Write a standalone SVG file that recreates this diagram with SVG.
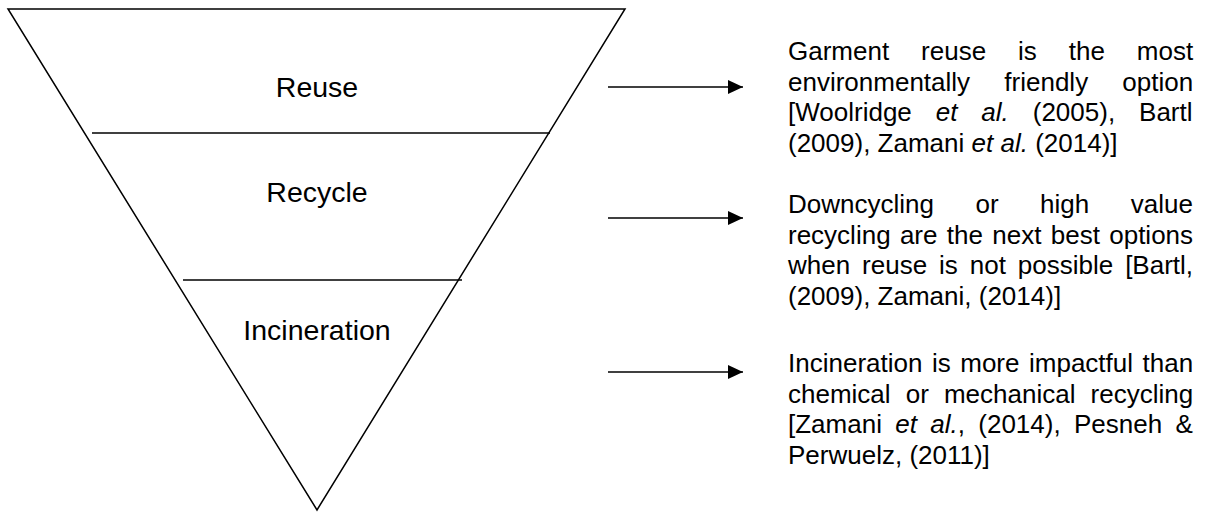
<svg xmlns="http://www.w3.org/2000/svg" width="1205" height="512" viewBox="0 0 1205 512">
  <style>
    .shape { fill: none; stroke: #000; stroke-width: 1.5; }
    .label { font-family: "Liberation Sans", Arial, sans-serif; font-size: 28.5px; fill: #000; text-anchor: middle; }
    .note { font-family: "Liberation Sans", Arial, sans-serif; font-size: 26px; fill: #000; }
    .it { font-style: italic; }
    .arrow { stroke: #000; stroke-width: 1.6; fill: none; marker-end: url(#head); }
  </style>
  <defs>
    <marker id="head" markerWidth="16" markerHeight="16" refX="15" refY="7" orient="auto" markerUnits="userSpaceOnUse">
      <path d="M0,0 L15,7 L0,14 Z" fill="#000"/>
    </marker>
  </defs>
  <rect x="0" y="0" width="1205" height="512" fill="#fff"/>

  <g id="pyramid">
    <polygon class="shape" points="8,9 625,9 317,510" stroke-linejoin="miter"/>
    <line class="shape" x1="92" y1="133" x2="550" y2="133"/>
    <line class="shape" x1="183" y1="280" x2="462" y2="280"/>
  </g>

  <g id="tier-reuse">
    <text class="label" x="317" y="97">Reuse</text>
  </g>
  <g id="tier-recycle">
    <text class="label" x="317" y="202">Recycle</text>
  </g>
  <g id="tier-incineration">
    <text class="label" x="317" y="340">Incineration</text>
  </g>

  <g id="connectors">
    <line class="arrow" x1="608" y1="87" x2="743" y2="87"/>
    <line class="arrow" x1="608" y1="218" x2="743" y2="218"/>
    <line class="arrow" x1="608" y1="372" x2="743" y2="372"/>
  </g>

  <g id="note-reuse">
    <text class="note" x="788" y="60" word-spacing="24.7">Garment reuse is the most</text>
    <text class="note" x="788" y="90.5" word-spacing="27">environmentally friendly option</text>
    <text class="note" x="788" y="121" word-spacing="16.7">[Woolridge <tspan class="it">et al.</tspan> (2005), Bartl</text>
    <text class="note" x="788" y="151.5">(2009), Zamani <tspan class="it">et al.</tspan> (2014)]</text>
  </g>

  <g id="note-recycle">
    <text class="note" x="788" y="213" word-spacing="34.3">Downcycling or high value</text>
    <text class="note" x="788" y="243.5" word-spacing="2.1">recycling are the next best options</text>
    <text class="note" x="788" y="274" word-spacing="4.7">when reuse is not possible [Bartl,</text>
    <text class="note" x="788" y="304.5">(2009), Zamani, (2014)]</text>
  </g>

  <g id="note-incineration">
    <text class="note" x="788" y="372" word-spacing="2.3">Incineration is more impactful than</text>
    <text class="note" x="788" y="402.5" word-spacing="7.9">chemical or mechanical recycling</text>
    <text class="note" x="788" y="433" word-spacing="6.1">[Zamani <tspan class="it">et al.</tspan>, (2014), Pesneh &amp;</text>
    <text class="note" x="788" y="463.5">Perwuelz, (2011)]</text>
  </g>
</svg>
